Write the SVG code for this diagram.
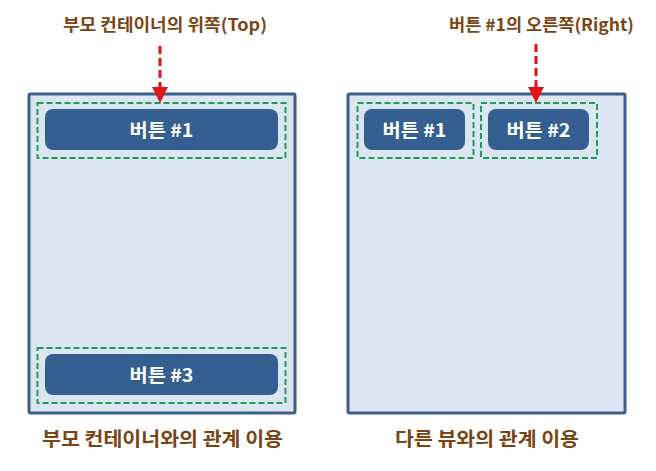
<svg xmlns="http://www.w3.org/2000/svg" width="656" height="471" viewBox="0 0 656 471">
<defs>
<style>
.cont{fill:#dce6f2;stroke:#3a5f8b;stroke-width:3}
.slot{fill:none;stroke:#1e9c55;stroke-width:2;stroke-dasharray:6 3}
.btn{fill:#365f91}
.bt{font-family:"Noto Sans CJK KR","Noto Sans",sans-serif;font-weight:bold;font-size:18px;fill:#ffffff;text-anchor:middle}
.ttl{font-family:"Noto Sans CJK KR","Noto Sans",sans-serif;font-weight:bold;font-size:17px;fill:#7a4515;text-anchor:middle}
.cap{font-family:"Noto Sans CJK KR","Noto Sans",sans-serif;font-weight:bold;font-size:19.5px;fill:#7a4515;text-anchor:middle}
.arr{stroke:#e31313;stroke-width:3;stroke-dasharray:8 4;fill:none}
.head{fill:#e31313}
</style>
</defs>
<rect width="656" height="471" fill="#ffffff"/>
<g id="left-container">
<rect class="cont" x="29" y="94" width="266" height="319" rx="1.5"/>
</g>
<g id="right-container">
<rect class="cont" x="348" y="94" width="277" height="319" rx="1.5"/>
</g>
<g id="left-button1">
<rect class="slot" x="37.5" y="103" width="248" height="55"/>
<rect class="btn" x="45" y="109" width="233" height="41" rx="8"/>
<text class="bt" x="161.5" y="137" textLength="64" lengthAdjust="spacingAndGlyphs">버튼 #1</text>
</g>
<g id="left-button3">
<rect class="slot" x="37.5" y="348" width="248" height="55"/>
<rect class="btn" x="45" y="354" width="233" height="41" rx="8"/>
<text class="bt" x="161.5" y="382" textLength="64" lengthAdjust="spacingAndGlyphs">버튼 #3</text>
</g>
<g id="right-button1">
<rect class="slot" x="357.5" y="103" width="116" height="55"/>
<rect class="btn" x="364" y="109" width="101" height="41" rx="8"/>
<text class="bt" x="414.5" y="137" textLength="64" lengthAdjust="spacingAndGlyphs">버튼 #1</text>
</g>
<g id="right-button2">
<rect class="slot" x="481" y="103" width="116" height="55"/>
<rect class="btn" x="488" y="109" width="101" height="41" rx="8"/>
<text class="bt" x="538.5" y="137" textLength="64" lengthAdjust="spacingAndGlyphs">버튼 #2</text>
</g>
<g id="labels">
<text class="ttl" x="165" y="31" textLength="204" lengthAdjust="spacingAndGlyphs">부모 컨테이너의 위쪽(Top)</text>
<text class="ttl" x="541.5" y="31" textLength="185" lengthAdjust="spacingAndGlyphs">버튼 #1의 오른쪽(Right)</text>
<text class="cap" x="162.5" y="446" textLength="241" lengthAdjust="spacingAndGlyphs">부모 컨테이너와의 관계 이용</text>
<text class="cap" x="487" y="446" textLength="184" lengthAdjust="spacingAndGlyphs">다른 뷰와의 관계 이용</text>
</g>
<g id="connectors">
<line class="arr" x1="160" y1="46" x2="160" y2="90"/>
<path class="head" d="M152,87 L168,87 L160,103 z"/>
<line class="arr" x1="536" y1="44" x2="536" y2="90"/>
<path class="head" d="M528,87 L544,87 L536,103 z"/>
</g>
</svg>
